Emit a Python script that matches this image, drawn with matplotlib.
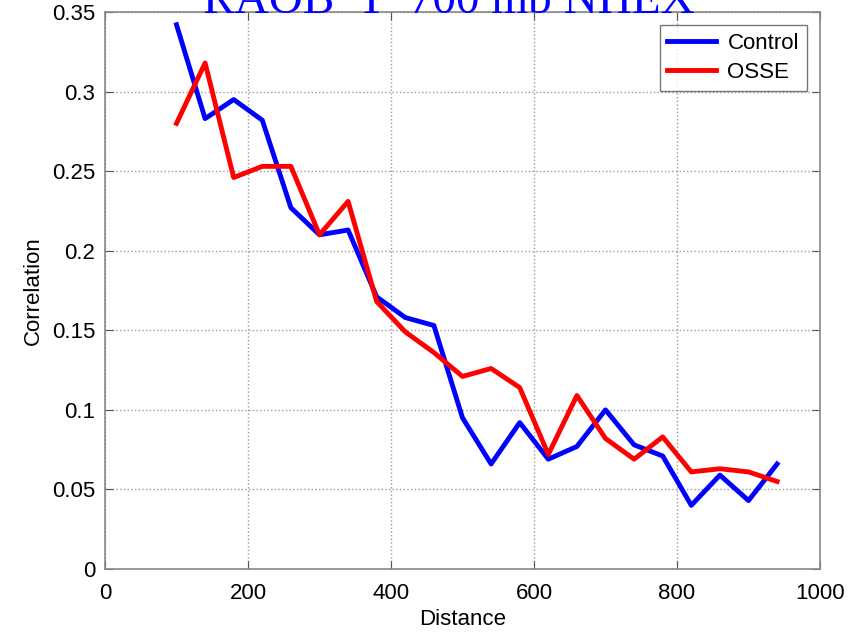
import matplotlib
matplotlib.use("Agg")
import matplotlib.pyplot as plt

distance = [100, 140, 180, 220, 260, 300, 340, 380, 420, 460, 500,
            540, 580, 620, 660, 700, 740, 780, 820, 860, 900, 940]
control = [0.342, 0.283, 0.295, 0.282, 0.227, 0.210, 0.213, 0.171, 0.158, 0.153, 0.095,
           0.066, 0.092, 0.069, 0.077, 0.100, 0.078, 0.071, 0.040, 0.059, 0.043, 0.066]
osse = [0.280, 0.318, 0.246, 0.253, 0.253, 0.210, 0.231, 0.168, 0.149, 0.136, 0.121,
        0.126, 0.114, 0.072, 0.109, 0.082, 0.069, 0.083, 0.061, 0.063, 0.061, 0.055]
xticks = [0, 200, 400, 600, 800, 1000]
yticks = [0, 0.05, 0.1, 0.15, 0.2, 0.25, 0.3, 0.35]
ytick_labels = ["0", "0.05", "0.1", "0.15", "0.2", "0.25", "0.3", "0.35"]

plt.rcParams['font.family'] = ['Liberation Sans', 'DejaVu Sans']

fig = plt.figure(figsize=(8.58, 6.36), dpi=100)
ax = fig.add_axes([105/858, 1-569/636, (820-105)/858, (569-12)/636])

ax.plot(distance, control, color='#0000ff', lw=3.5, label='Control')
ax.plot(distance, osse, color='#ff0000', lw=3.5, label='OSSE')

ax.set_xlim(0, 1000)
ax.set_ylim(0, 0.35)
ax.set_xticks(xticks)
ax.set_yticks(yticks)
ax.set_yticklabels(ytick_labels)
ax.tick_params(direction='in', labelsize=16, length=6, color='#555555', top=True, right=True)
ax.tick_params(axis='x', pad=10)
ax.tick_params(axis='y', pad=7)
ax.grid(True, linestyle=':', color='#999999', lw=1)
for s in ax.spines.values():
    s.set_color('#888888')
    s.set_linewidth(1.2)

ax.set_xlabel('Distance', fontsize=16, labelpad=4)
ax.set_ylabel('Correlation', fontsize=16, labelpad=6)

leg = ax.legend(loc='upper right', fontsize=16, fancybox=False, edgecolor='#555555',
                handlelength=2.2, handletextpad=0.5, borderaxespad=0.6,
                borderpad=0.35, labelspacing=0.35)
leg.get_frame().set_linewidth(1)

fig.text(0.523, 0.998, 'RAOB  T  700 mb NHEX', color='#0000ff', fontsize=34,
         family='Liberation Serif', ha='center', va='center')

fig.savefig('out.png', dpi=100)
